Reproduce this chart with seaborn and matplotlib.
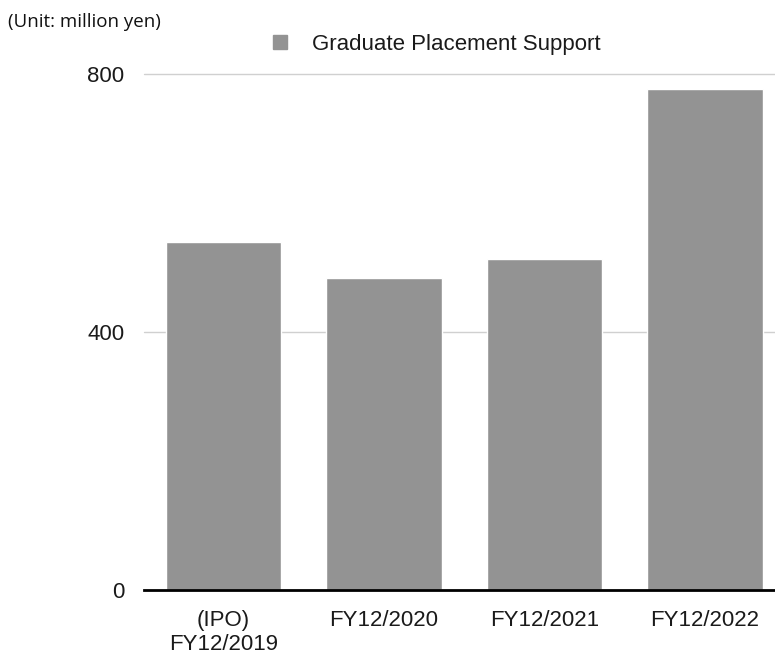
import matplotlib
matplotlib.use("Agg")
import matplotlib.pyplot as plt
import seaborn as sns
import pandas as pd
from matplotlib.lines import Line2D

categories = ["(IPO)\nFY12/2019", "FY12/2020", "FY12/2021", "FY12/2022"]
values = [539, 483, 513, 777]
yticks = [0, 400, 800]
series_name = "Graduate Placement Support"
unit_label = "(Unit: million yen)"

bar_color = "#939393"

sns.set_theme(style="white")
plt.rcParams["font.family"] = ["Liberation Sans", "DejaVu Sans"]

df = pd.DataFrame({"category": categories, "value": values})

fig = plt.figure(figsize=(7.75, 6.55), dpi=100)
ax = fig.add_axes([144 / 775, 1 - 590 / 655, 1 - 144 / 775, (590 - 74) / 655])

sns.barplot(data=df, x="category", y="value", color=bar_color, width=0.72,
            saturation=1, ax=ax, zorder=3)

ax.set_xlim(-0.495, 3.436)
ax.set_ylim(0, 800)
ax.set_yticks(yticks)
ax.set_yticklabels([str(t) for t in yticks], fontsize=16, color="#1a1a1a")
ax.tick_params(axis="y", length=0, pad=14)
ax.tick_params(axis="x", length=0, pad=14.5, labelsize=16, labelcolor="#1a1a1a")
for lbl in ax.get_xticklabels():
    lbl.set_linespacing(1.15)
    lbl.set_verticalalignment("top")
ax.set_xlabel("")
ax.set_ylabel("")

for sp in ["top", "right", "left"]:
    ax.spines[sp].set_visible(False)
ax.spines["bottom"].set_color("black")
ax.spines["bottom"].set_linewidth(2)
ax.spines["bottom"].set_zorder(4)

for t in yticks[1:]:
    ax.axhline(t, color="#d0d0d0", linewidth=1, zorder=1, clip_on=False)

handle = Line2D([], [], marker="s", linestyle="none", markersize=10,
                markerfacecolor=bar_color, markeredgecolor=bar_color)
fig.legend([handle], [series_name], loc="center left",
           bbox_to_anchor=(268.5 / 775, 1 - 44.5 / 655), frameon=False,
           fontsize=16, handlelength=1.0, handletextpad=0.97,
           borderaxespad=0, borderpad=0, labelcolor="#1a1a1a")

fig.text(8 / 775, 1 - 22 / 655, unit_label, fontsize=13.5, family="Open Sans",
         va="center", ha="left", color="#111111")

fig.savefig("out.png", dpi=100, facecolor="white")
